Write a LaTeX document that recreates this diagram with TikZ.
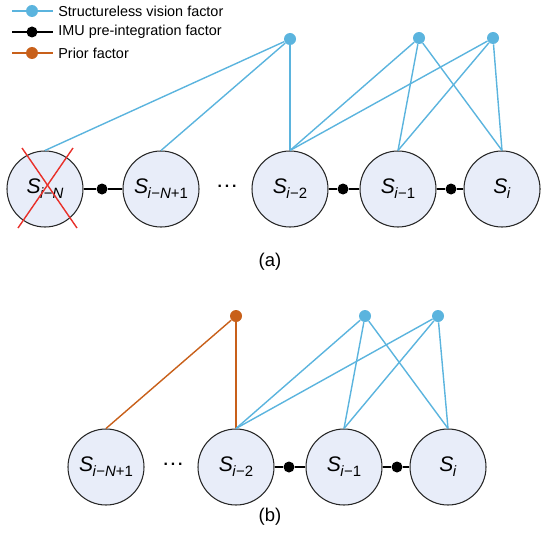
\documentclass[tikz,border=0pt]{standalone}
\usepackage{fontspec}
\setmainfont{Liberation Sans}
\usepackage{tikz}
\usetikzlibrary{arrows.meta}

\definecolor{visblue}{RGB}{91,180,222}
\definecolor{priororange}{RGB}{200,96,26}
\definecolor{statefill}{RGB}{232,237,249}
\definecolor{crossred}{RGB}{232,48,42}

\newcommand{\stvar}[1]{\textit{S}\kern-0.3pt\raisebox{-0.45ex}{\fontsize{8.5}{9}\selectfont #1}}
\newcommand{\gapdots}{.\kern1.6pt.\kern1.6pt.}

\tikzset{
  state/.style={circle, draw=black!85, fill=statefill, line width=0.6pt,
    minimum size=1.52cm, inner sep=0pt, font=\fontsize{12}{14}\selectfont},
  visfac/.style={circle, fill=visblue, minimum size=0.24cm, inner sep=0pt},
  imufac/.style={circle, fill=black, minimum size=0.22cm, inner sep=0pt},
  priorfac/.style={circle, fill=priororange, minimum size=0.24cm, inner sep=0pt},
  visline/.style={visblue, line width=0.8pt},
  imuline/.style={black, line width=0.8pt},
  priorline/.style={priororange, line width=0.8pt},
  legtext/.style={anchor=west, font=\fontsize{8.2}{10}\selectfont, inner sep=0pt},
  dotsnode/.style={font=\bfseries\fontsize{9}{10}\selectfont},
}

\begin{document}
\begin{tikzpicture}[x=0.2mm, y=-0.2mm]
    \useasboundingbox (0, 0) rectangle (540, 545);

    % legend
    \coordinate (lv1) at (12, 11);  \coordinate (lv2) at (53, 11);
    \coordinate (li1) at (12, 32);  \coordinate (li2) at (53, 32);
    \coordinate (lp1) at (12, 53);  \coordinate (lp2) at (53, 53);
    \draw [visline] (lv1) -- (lv2);
    \draw [imuline] (li1) -- (li2);
    \draw [priorline] (lp1) -- (lp2);
    \node [visfac] (lvdot) at (32, 11) {};
    \node [imufac] (lidot) at (32, 32) {};
    \node [priorfac] (lpdot) at (32, 53) {};
    \node [legtext] (lvtxt) at (58, 11) {Structureless vision factor};
    \node [legtext] (litxt) at (58, 32) {IMU pre-integration factor};
    \node [legtext] (lptxt) at (58, 53) {Prior factor};

    % (a)
    \node [state] (aN)  at (45, 189)  {\stvar{\textit{i}−\textit{N}}};
    \node [state] (aN1) at (161, 189) {\stvar{\textit{i}−\textit{N}+1}};
    \node [state] (a2)  at (290, 189) {\stvar{\textit{i}−2}};
    \node [state] (a1)  at (398, 189) {\stvar{\textit{i}−1}};
    \node [state] (a0)  at (502, 189) {\stvar{\textit{i}}};
    \node [dotsnode] (adots) at (227, 186) {\gapdots};

    \node [visfac] (av1) at (290, 39) {};
    \node [visfac] (av2) at (419, 38) {};
    \node [visfac] (av3) at (493, 38) {};

    \node [imufac] (ai1) at (102, 189) {};
    \node [imufac] (ai2) at (343, 189) {};
    \node [imufac] (ai3) at (451, 189) {};

    \draw [visline] (av1) -- (aN.north);
    \draw [visline] (av1) -- (aN1.north);
    \draw [visline] (av1) -- (a2.north);
    \foreach \f in {av2, av3} {
      \draw [visline] (\f) -- (a2.north);
      \draw [visline] (\f) -- (a1.north);
      \draw [visline] (\f) -- (a0.north);
    }
    \draw [imuline] (aN) -- (ai1) -- (aN1);
    \draw [imuline] (a2) -- (ai2) -- (a1);
    \draw [imuline] (a1) -- (ai3) -- (a0);

    \draw [crossred, line width=0.8pt] (aN.center) ++(-23, -41) -- ++(55, 80);
    \draw [crossred, line width=0.8pt] (aN.center) ++(28, -41) -- ++(-55, 80);

    \node [font=\fontsize{10.5}{12}\selectfont] (alab) at (270, 262) {(a)};

    % (b)
    \node [state] (bN1) at (106, 467) {\stvar{\textit{i}−\textit{N}+1}};
    \node [state] (b2)  at (236, 467) {\stvar{\textit{i}−2}};
    \node [state] (b1)  at (344, 467) {\stvar{\textit{i}−1}};
    \node [state] (b0)  at (448, 467) {\stvar{\textit{i}}};
    \node [dotsnode] (bdots) at (173, 464) {\gapdots};

    \node [priorfac] (bp) at (236, 316) {};
    \node [visfac] (bv1) at (365, 316) {};
    \node [visfac] (bv2) at (438, 316) {};

    \node [imufac] (bi1) at (289, 467) {};
    \node [imufac] (bi2) at (397, 467) {};

    \draw [priorline] (bp) -- (bN1.north);
    \draw [priorline] (bp) -- (b2.north);
    \foreach \f in {bv1, bv2} {
      \draw [visline] (\f) -- (b2.north);
      \draw [visline] (\f) -- (b1.north);
      \draw [visline] (\f) -- (b0.north);
    }
    \draw [imuline] (b2) -- (bi1) -- (b1);
    \draw [imuline] (b1) -- (bi2) -- (b0);

    \node [font=\fontsize{10.5}{12}\selectfont] (blab) at (270, 517) {(b)};
\end{tikzpicture}
\end{document}
